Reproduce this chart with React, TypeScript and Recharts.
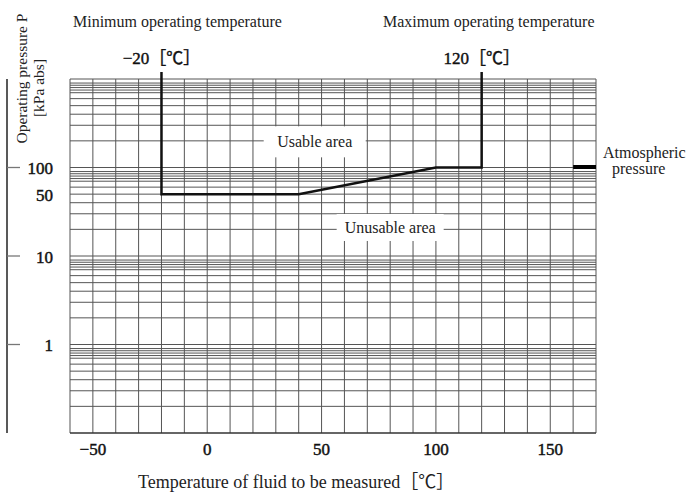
import React from 'react';
import { ComposedChart, Line, XAxis, YAxis, ReferenceLine, ReferenceDot } from 'recharts';

const FONT = '"Liberation Serif", "Noto Sans CJK JP", serif';

// Axes / grid values
const tempGrid = [-60, -50, -40, -30, -20, -10, 0, 10, 20, 30, 40, 50, 60, 70, 80, 90, 100, 110, 120, 130, 140, 150, 160, 170];
const xTicks = [-50, 0, 50, 100, 150];
const decades = [0.1, 1, 10, 100];
const gridMultipliers = [2, 3, 4, 5, 6, 7, 7.5, 8, 8.5, 9];
const decadeLines = [0.1, 1, 10, 100, 1000];
const yTicks = [1, 10, 50, 100];
const pressureDomain = [0.1, 1000];
const tempDomain = [-60, 170];

// Usable-area boundary
const boundaryTemp = [-20, -20, 40, 100, 120, 120];
const boundaryPressure = [1000, 50, 50, 100, 100, 1000];

// Limit markers
const limitTemps = [-20, 120];
const limitLabels = ['−20［℃］', '120［℃］'];
const limitTop = 1200;

// Atmospheric pressure marker
const atmPressure = 101.3;
const atmTemps = [160, 170];

// Area labels
const usableLabel = { t: 47, p: 195, text: 'Usable area' };
const unusableLabel = { t: 80, p: 21, text: 'Unusable area' };

const boundaryData = boundaryTemp.map((t, i) => ({ t, p: boundaryPressure[i] }));
const minorPressure = decades.flatMap((d) => gridMultipliers.map((m) => +(m * d).toPrecision(3)));
const pressureGrid = [...minorPressure, ...decadeLines];

const GRID = '#555';

const PTick = (props: any) => {
  const { x, y, payload } = props;
  const v = payload.value;
  const major = Math.abs(Math.log10(v) % 1) < 1e-9;
  return (
    <g>
      {major && <line x1={x - 46} x2={x - 33} y1={y} y2={y} stroke="#777" strokeWidth={1.3} />}
      <text
        x={x}
        y={y}
        dy="0.4em"
        textAnchor="end"
        fontSize={17}
        fontFamily={FONT}
        fill="#111"
        stroke="#111"
        strokeWidth={0.45}
      >
        {v}
      </text>
    </g>
  );
};

const TTick = (props: any) => {
  const { x, y, payload } = props;
  const v = payload.value;
  const s = v < 0 ? '−' + Math.abs(v) : String(v);
  return (
    <text
      x={x}
      y={y}
      dy="0.71em"
      textAnchor="middle"
      fontSize={17}
      fontFamily={FONT}
      fill="#111"
      stroke="#111"
      strokeWidth={0.45}
    >
      {s}
    </text>
  );
};

const areaLabel = (text: string, w: number, h: number) => (props: any) => {
  const { cx, cy } = props;
  return (
    <g>
      <rect x={cx - w / 2} y={cy - h / 2} width={w} height={h} fill="#fff" />
      <text x={cx} y={cy} dy="0.35em" textAnchor="middle" fontSize={16} fontFamily={FONT} fill="#222">
        {text}
      </text>
    </g>
  );
};

export default function App() {
  return (
    <div style={{ position: 'absolute', left: 0, top: 0, width: 686, height: 493, background: '#fff' }}>
      <ComposedChart
        width={686}
        height={493}
        data={boundaryData}
        margin={{ top: 79, right: 90, bottom: 0, left: 0 }}
      >
        <XAxis
          dataKey="t"
          type="number"
          domain={tempDomain}
          ticks={xTicks}
          interval={0}
          axisLine={false}
          tickLine={false}
          tickSize={0}
          tickMargin={10}
          height={60}
          tick={<TTick />}
          allowDataOverflow
        />
        <YAxis
          yAxisId="p"
          scale="log"
          type="number"
          domain={pressureDomain}
          ticks={yTicks}
          interval={0}
          axisLine={false}
          tickLine={false}
          tickSize={0}
          tickMargin={17}
          width={63}
          tick={<PTick />}
          allowDataOverflow
        />
        <YAxis
          yAxisId="z"
          scale="log"
          type="number"
          domain={pressureDomain}
          tick={false}
          tickLine={false}
          axisLine={{ stroke: '#222', strokeWidth: 1.5 }}
          width={7}
          allowDataOverflow
        />
        {tempGrid.map((t) => (
          <ReferenceLine key={'v' + t} yAxisId="p" x={t} stroke={GRID} strokeWidth={1} ifOverflow="visible" />
        ))}
        {pressureGrid.map((p) => (
          <ReferenceLine
            key={'h' + p}
            yAxisId="p"
            y={p}
            stroke={p === 0.1 ? '#333' : GRID}
            strokeWidth={p === 0.1 ? 1.6 : 1}
            ifOverflow="visible"
          />
        ))}
        <ReferenceDot
          yAxisId="p"
          x={usableLabel.t}
          y={usableLabel.p}
          r={1}
          shape={areaLabel(usableLabel.text, 102, 31)}
        />
        <ReferenceDot
          yAxisId="p"
          x={unusableLabel.t}
          y={unusableLabel.p}
          r={1}
          shape={areaLabel(unusableLabel.text, 107, 27)}
        />
        <ReferenceLine
          yAxisId="p"
          segment={[
            { x: atmTemps[0], y: atmPressure },
            { x: atmTemps[1], y: atmPressure },
          ]}
          stroke="#000"
          strokeWidth={4}
          ifOverflow="visible"
        />
        {limitTemps.map((t, i) => (
          <ReferenceLine
            key={'lim' + t}
            yAxisId="p"
            segment={[
              { x: t, y: 1000 },
              { x: t, y: limitTop },
            ]}
            stroke="#111"
            strokeWidth={2.5}
            ifOverflow="visible"
            label={{
              value: limitLabels[i],
              position: 'top',
              offset: 8,
              fontSize: 17,
              fill: '#111',
              stroke: '#111',
              strokeWidth: 0.4,
              fontFamily: FONT,
            }}
          />
        ))}
        <Line
          yAxisId="p"
          type="linear"
          dataKey="p"
          stroke="#111"
          strokeWidth={2.5}
          dot={false}
          activeDot={false}
          isAnimationActive={false}
        />
      </ComposedChart>
      <svg
        width={686}
        height={493}
        style={{ position: 'absolute', left: 0, top: 0, pointerEvents: 'none' }}
        fontFamily={FONT}
        fill="#222"
      >
        <text x={73} y={27} fontSize={16}>Minimum operating temperature</text>
        <text x={383} y={27} fontSize={16}>Maximum operating temperature</text>
        <text x={27} y={78.5} fontSize={15.5} textAnchor="middle" transform="rotate(-90 27 78.5)">
          Operating pressure P
        </text>
        <text x={44} y={88} fontSize={15.5} textAnchor="middle" transform="rotate(-90 44 88)">
          [kPa abs]
        </text>
        <text x={603} y={158} fontSize={16}>Atmospheric</text>
        <text x={612} y={174} fontSize={16}>pressure</text>
        <text x={138} y={488} fontSize={18}>Temperature of fluid to be measured［℃］</text>
      </svg>
    </div>
  );
}
